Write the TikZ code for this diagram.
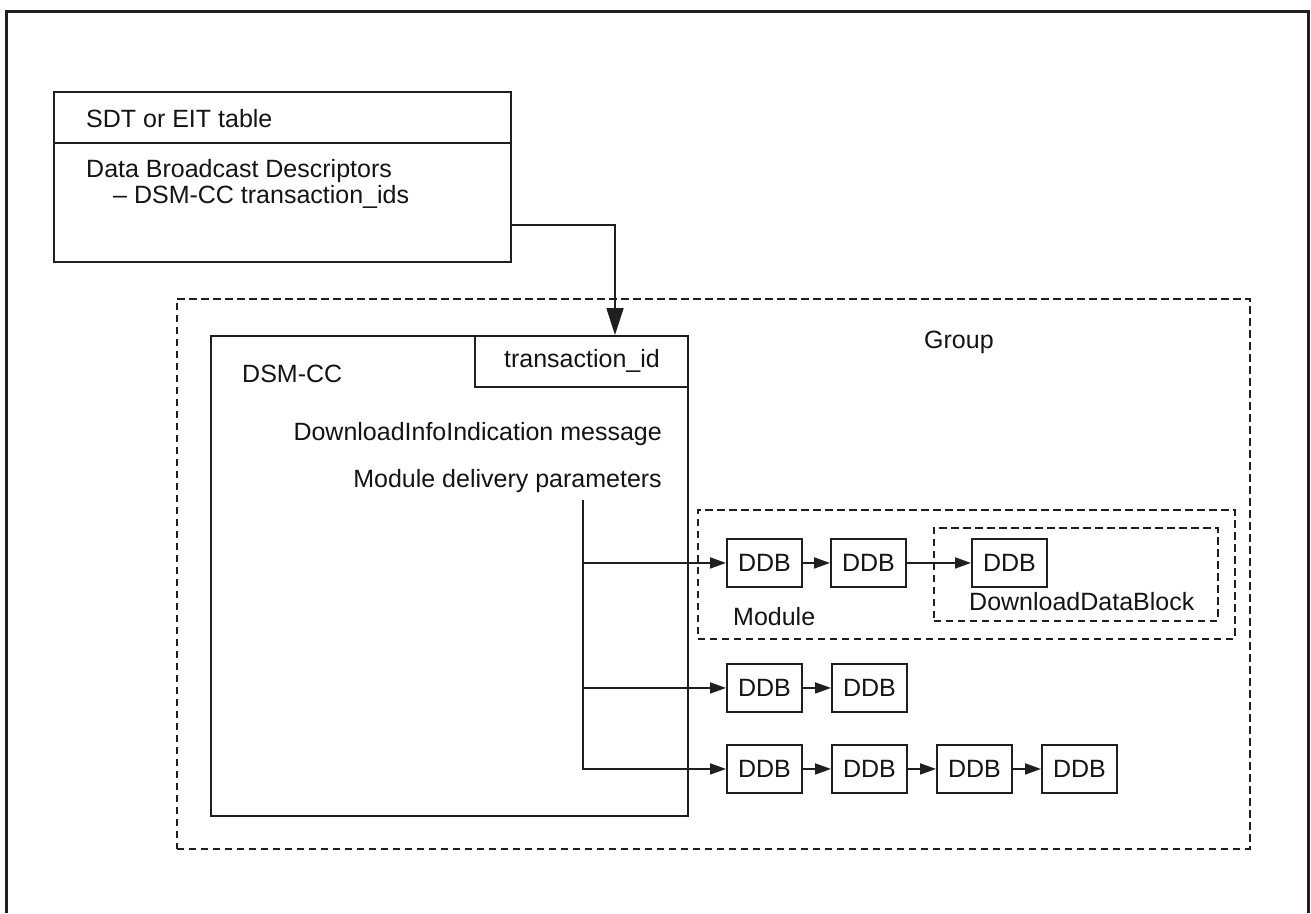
\documentclass[tikz,border=0pt]{standalone}
\usepackage{fontspec}
\setmainfont{Liberation Sans}
\usetikzlibrary{arrows.meta}
\begin{document}
\begin{tikzpicture}[x=1pt,y=-1pt,
  every node/.style={font=\fontsize{25}{30}\selectfont, text=black!92, inner sep=0pt},
  box/.style={draw=black!88, line width=1.9pt, anchor=north west},
  dbox/.style={draw=black!88, line width=1.7pt, dash pattern=on 7.5pt off 4.5pt, anchor=north west},
  ddb/.style={draw=black!88, line width=1.9pt, minimum width=75pt, minimum height=48pt, anchor=north west},
  conn/.style={draw=black!88, line width=1.7pt},
  arr/.style={conn, -{Triangle[length=16pt,width=11pt]}},
  bigarr/.style={conn, -{Triangle[length=27pt,width=17pt]}},
  lbl/.style={anchor=base west},
  rlbl/.style={anchor=base east}
]
\useasboundingbox (0,0) rectangle (1311,913);
\fill[white] (0,0) rectangle (1311,913);
% outer frame (bottom edge lies below the picture)
\draw[line width=3pt, black!88] (6,913) -- (6,11) -- (1308,11) -- (1308,913);

% SDT / EIT table
\node[box, minimum width=457pt, minimum height=170pt] (sdt) at (53,91) {};
\draw[conn] ([yshift=-52pt]sdt.north west) -- ([yshift=-52pt]sdt.north east);
\node[lbl] (sdtt) at (86,127) {SDT or EIT table};
\node[lbl] (dbd) at (86,177) {Data Broadcast Descriptors};
\node[lbl] (dsmids) at (113,203) {– DSM-CC transaction\_ids};

% Group (dashed)
\node[dbox, minimum width=1073pt, minimum height=550pt] (group) at (176,298) {};
\node[lbl] (groupt) at (924,348) {Group};

% DSM-CC
\node[box, minimum width=477pt, minimum height=480pt] (dsm) at (210,335) {};
\node[box, anchor=north east, minimum width=213pt, minimum height=51pt] (tid) at (dsm.north east) {};
\node[rlbl] (tidt) at (660,367) {transaction\_id};
\node[lbl] (dsmt) at (242,382) {DSM-CC};
\node[rlbl] (dii) at (662,440) {DownloadInfoIndication message};
\node[rlbl] (mdp) at (662,487) {Module delivery parameters};

\draw[bigarr] ([yshift=-134pt]sdt.north east) -| ([xshift=141pt]tid.north west);

% Module (dashed) and DownloadDataBlock (dashed)
\node[dbox, minimum width=537pt, minimum height=129pt] (module) at (697,509) {};
\node[dbox, minimum width=284pt, minimum height=93pt] (ddbbox) at (933,527) {};
\node[lbl] (modt) at (733,625) {Module};
\node[lbl] (ddbt) at (969,610) {DownloadDataBlock};

% DDB rows
\node[ddb] (a1) at (726,538) {DDB};
\node[ddb] (a2) at (830,538) {DDB};
\node[ddb] (a3) at (971,538) {DDB};
\node[ddb] (b1) at (726,663) {DDB};
\node[ddb] (b2) at (831,663) {DDB};
\node[ddb] (c1) at (726,744) {DDB};
\node[ddb] (c2) at (831,744) {DDB};
\node[ddb] (c3) at (936,744) {DDB};
\node[ddb] (c4) at (1041,744) {DDB};

% connectors
\coordinate (trunk) at (583,500);
\draw[arr] (trunk) |- (c1);
\draw[arr] (trunk |- a1) -- (a1);
\draw[arr] (trunk |- b1) -- (b1);
\draw[arr] (a1) -- (a2);
\draw[arr] (a2) -- (a3);
\draw[arr] (b1) -- (b2);
\draw[arr] (c1) -- (c2);
\draw[arr] (c2) -- (c3);
\draw[arr] (c3) -- (c4);
\end{tikzpicture}
\end{document}
